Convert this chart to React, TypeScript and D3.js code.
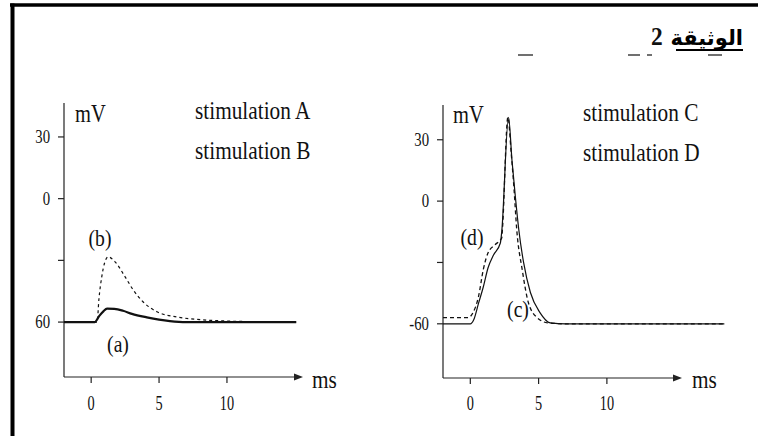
import * as d3 from "d3"
import React from "react"

// axis ticks
const timeTicks = [0, 5, 10]
const voltTicks = [30, 0, -30, -60]
const leftVoltLabels = ["30", "0", "", "60"]
const rightVoltLabels = ["30", "0", "", "-60"]

// (a) stimulation A, solid
const timeA = [-2, 0, 0.27, 0.6, 0.9, 1.17, 1.7, 2.35, 3, 4.1, 5, 5.8, 7, 10, 15.1]
const voltA = [-60, -60, -60, -57, -54.8, -53.5, -53.6, -54.5, -56, -57.7, -58.8, -59.5, -60, -60, -60]

// (b) stimulation B, dashed
const timeB = [-2, 0, 0.44, 0.57, 0.78, 1.0, 1.25, 1.76, 2.5, 3.1, 3.8, 4.85, 6.3, 7.8, 10, 12, 15.1]
const voltB = [-60, -60, -60, -49, -38, -31, -28.3, -30.7, -38, -44.4, -50, -55, -57.5, -58.7, -59.5, -59.8, -60]

// (c) stimulation C, solid
const timeC = [-2, 0, 0.25, 0.6, 0.95, 1.3, 1.7, 2.2, 2.3, 2.8, 3.05, 3.3, 3.55, 3.9, 4.4, 5.1, 5.85, 7, 10, 18.6]
const voltC = [-60, -60, -58, -50, -42, -32.6, -26.3, -20.5, -15, 41, 20, 2, -14, -30, -44.7, -54.5, -59.5, -60, -60, -60]

// (d) stimulation D, dashed
const timeD = [-2, -0.15, 0.2, 0.6, 0.95, 1.3, 1.8, 2.3, 2.35, 2.75, 3.0, 3.2, 3.4, 3.8, 4.25, 4.9, 5.65, 7, 10, 18.6]
const voltD = [-57, -57, -54.5, -46.7, -33.5, -25.3, -21.4, -18, -14, 41, 23, 6, -14, -33.5, -49.6, -57, -59.5, -60, -60, -60]

const serif = "'Liberation Serif', 'Times New Roman', serif"

const Txt = ({ x, y, size, sx = 0.82, anchor = "start", weight = "normal", children }) => (
  <text
    transform={`translate(${x},${y}) scale(${sx},1)`}
    fontSize={size}
    fontFamily={serif}
    fontWeight={weight}
    textAnchor={anchor}
    fill="#111"
  >
    {children}
  </text>
)

const Panel = ({ xr, tMax, yr, vDomain, voltLabels, series, texts }) => {
  const x = d3.scaleLinear().domain([-2, tMax]).range(xr)
  const y = d3.scaleLinear().domain(vDomain).range(yr)
  const line = d3
    .line()
    .x((d) => x(d[0]))
    .y((d) => y(d[1]))
    .curve(d3.curveMonotoneX)
  const ax = xr[0]
  const ay = yr[0]
  const tip = xr[1]
  return (
    <g>
      {/* axes */}
      <line x1={ax} x2={ax} y1={yr[0]} y2={yr[1]} stroke="#222" strokeWidth={1.2} />
      <line x1={ax} x2={tip - 4} y1={ay} y2={ay} stroke="#222" strokeWidth={1.2} />
      <path d={`M${tip},${ay} L${tip - 9},${ay - 3.5} L${tip - 9},${ay + 3.5} Z`} fill="#222" />
      {voltTicks.map((v, i) => (
        <g key={v}>
          <line x1={ax - 6} x2={ax} y1={y(v)} y2={y(v)} stroke="#222" strokeWidth={1.2} />
          <Txt x={ax - 14} y={y(v) + 6} size={18} anchor="end">
            {voltLabels[i]}
          </Txt>
        </g>
      ))}
      {timeTicks.map((t) => (
        <g key={t}>
          <line x1={x(t)} x2={x(t)} y1={ay} y2={ay + 6} stroke="#222" strokeWidth={1.2} />
          <Txt x={x(t)} y={410} size={22} sx={0.65} anchor="middle">
            {t}
          </Txt>
        </g>
      ))}
      {series.map((s, i) => (
        <path
          key={i}
          d={line(s.t.map((t, j) => [t, s.v[j]]))}
          fill="none"
          stroke="#111"
          strokeWidth={s.w}
          strokeDasharray={s.dash}
        />
      ))}
      {texts.map((t, i) => (
        <Txt key={i} x={t.x} y={t.y} size={t.size} anchor={t.anchor}>
          {t.s}
        </Txt>
      ))}
    </g>
  )
}

export default function App() {
  return (
    <svg
      width={758}
      height={436}
      style={{ position: "absolute", left: 0, top: 0, background: "#fff" }}
    >
      <rect width={758} height={436} fill="#fff" />
      {/* frame */}
      <line x1={10} x2={758} y1={5} y2={5} stroke="#000" strokeWidth={3.5} />
      <line x1={12.5} x2={12.5} y1={3.5} y2={436} stroke="#000" strokeWidth={4} />

      {/* title */}
      <text x={743} y={45} fontSize={21} fontWeight="bold" fontFamily="'DejaVu Sans', sans-serif" textAnchor="end" fill="#000">
        الوثيقة
      </text>
      <line x1={676} x2={743} y1={50} y2={50} stroke="#000" strokeWidth={2} />
      <Txt x={651} y={45} size={26} sx={0.9} weight="bold">2</Txt>
      <g stroke="#333" strokeWidth={1.4}>
        <line x1={518} x2={533} y1={55} y2={55} />
        <line x1={628} x2={640} y1={55} y2={55} />
        <line x1={647} x2={652} y1={55} y2={55} />
        <line x1={708} x2={722} y1={55} y2={55} />
      </g>

      <Panel
        xr={[64, 303]}
        tMax={15.6}
        yr={[377, 103]}
        vDomain={[-86.7, 46.5]}
        voltLabels={leftVoltLabels}
        series={[
          { t: timeB, v: voltB, w: 1.2, dash: "3,3" },
          { t: timeA, v: voltA, w: 2.2, dash: null },
        ]}
        texts={[
          { s: "mV", x: 75, y: 122, size: 25 },
          { s: "stimulation A", x: 195, y: 119, size: 26 },
          { s: "stimulation B", x: 195, y: 159, size: 26 },
          { s: "ms", x: 312, y: 388, size: 26 },
          { s: "(b)", x: 100, y: 246, size: 24, anchor: "middle" },
          { s: "(a)", x: 118, y: 352, size: 24, anchor: "middle" },
        ]}
      />
      <Panel
        xr={[443, 682]}
        tMax={15.5}
        yr={[378, 105]}
        vDomain={[-86.5, 47]}
        voltLabels={rightVoltLabels}
        series={[
          { t: timeD, v: voltD, w: 1.3, dash: "4,3" },
          { t: timeC, v: voltC, w: 1.2, dash: null },
        ]}
        texts={[
          { s: "mV", x: 453, y: 123, size: 25 },
          { s: "stimulation C", x: 583, y: 121, size: 26 },
          { s: "stimulation D", x: 583, y: 161, size: 26 },
          { s: "ms", x: 692, y: 388, size: 26 },
          { s: "(d)", x: 472, y: 245, size: 24, anchor: "middle" },
          { s: "(c)", x: 518, y: 317, size: 24, anchor: "middle" },
        ]}
      />
    </svg>
  )
}
